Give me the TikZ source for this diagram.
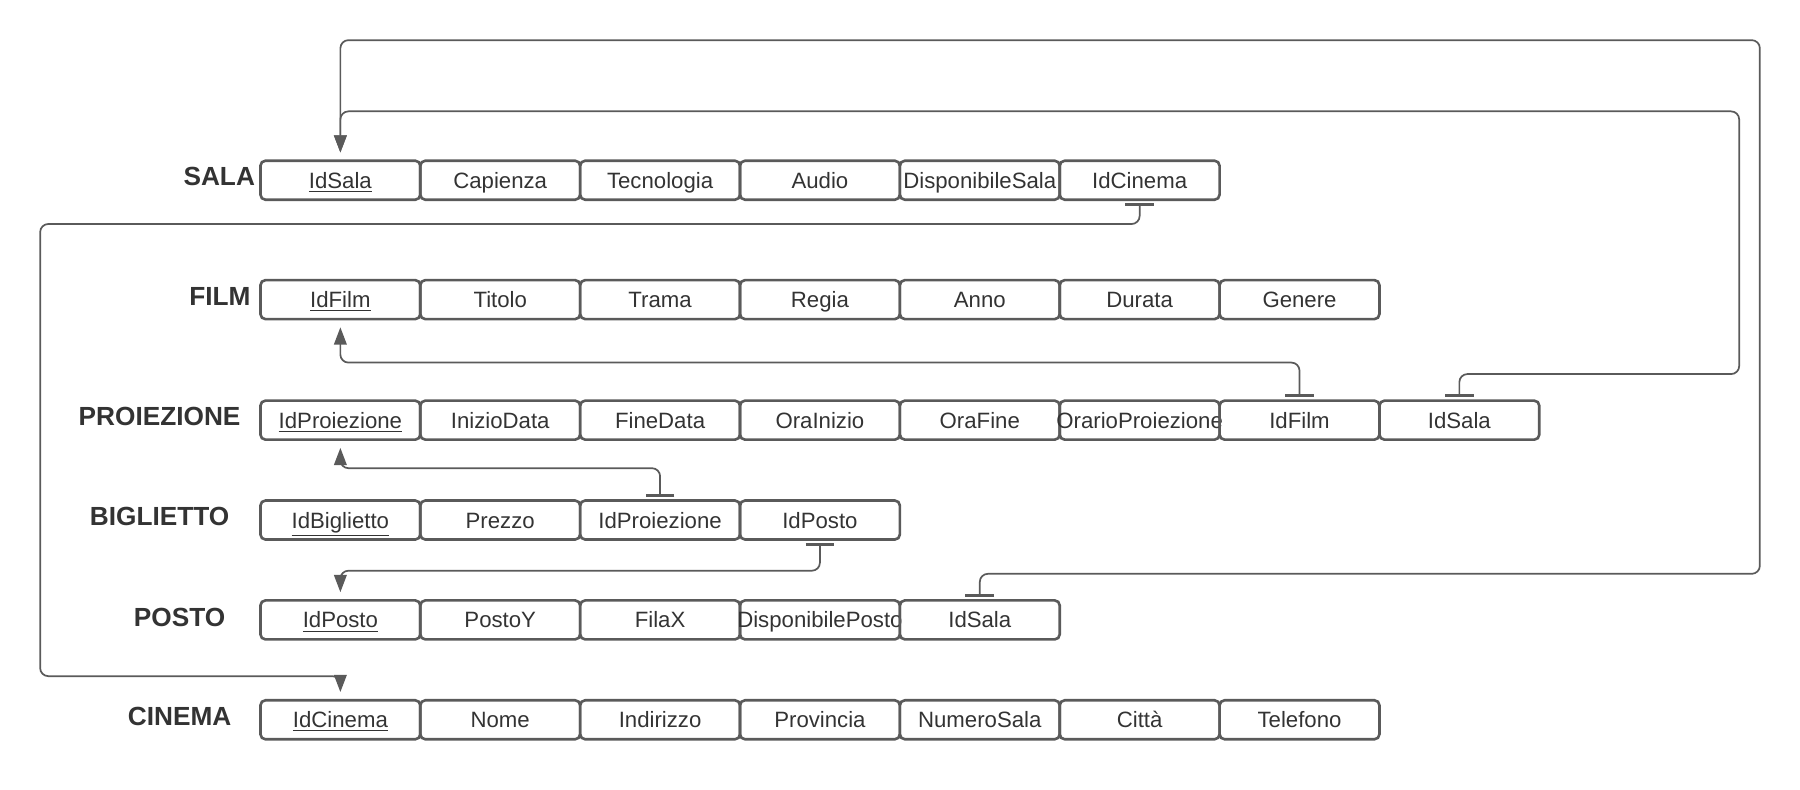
\documentclass[tikz,border=0pt]{standalone}
\usepackage{fontspec}
\setmainfont{Liberation Sans}
\usepackage{xcolor}
\usepackage{tikz}
\usetikzlibrary{arrows.meta}
\definecolor{linegray}{HTML}{5A5A5A}
\definecolor{textgray}{HTML}{333333}
\tikzset{
    mybox/.style = {rectangle, rounded corners=2.5pt, draw=linegray, line width=1.3pt, minimum width=2.785cm, minimum height=0.68cm, inner sep=0pt, text height=9pt, text depth=1pt, text=textgray, font=\fontsize{11}{13}\selectfont},
    mytitle/.style = {text=textgray, font=\fontsize{13}{15}\selectfont\bfseries},
}

\begin{document}
\begin{tikzpicture}
\tikzset{
    edgek/.style = {draw=linegray, line width=0.85pt, rounded corners=4pt, {Bar[width=0.5cm,line width=1.3pt]}-{Triangle[length=0.3cm,width=0.22cm]}, shorten <=0.04cm, shorten >=0.12cm}
}
\useasboundingbox (0,0) rectangle (31.36,13.76);
%
\node[mytitle] at (3.82,10.68) (tsala) {SALA};
\node[mybox] at (5.930,10.62) (s1) {\underline{IdSala}};
\node[mybox] at (8.715,10.62) (s2) {Capienza};
\node[mybox] at (11.500,10.62) (s3) {Tecnologia};
\node[mybox] at (14.285,10.62) (s4) {Audio};
\node[mybox] at (17.070,10.62) (s5) {DisponibileSala};
\node[mybox] at (19.855,10.62) (s6) {IdCinema};
%
\node[mytitle] at (3.83,8.60) (tfilm) {FILM};
\node[mybox] at (5.930,8.54) (f1) {\underline{IdFilm}};
\node[mybox] at (8.715,8.54) (f2) {Titolo};
\node[mybox] at (11.500,8.54) (f3) {Trama};
\node[mybox] at (14.285,8.54) (f4) {Regia};
\node[mybox] at (17.070,8.54) (f5) {Anno};
\node[mybox] at (19.855,8.54) (f6) {Durata};
\node[mybox] at (22.640,8.54) (f7) {Genere};
%
\node[mytitle] at (2.78,6.50) (tproiezione) {PROIEZIONE};
\node[mybox] at (5.930,6.44) (p1) {\underline{IdProiezione}};
\node[mybox] at (8.715,6.44) (p2) {InizioData};
\node[mybox] at (11.500,6.44) (p3) {FineData};
\node[mybox] at (14.285,6.44) (p4) {OraInizio};
\node[mybox] at (17.070,6.44) (p5) {OraFine};
\node[mybox] at (19.855,6.44) (p6) {\makebox[0pt]{OrarioProiezione}};
\node[mybox] at (22.640,6.44) (p7) {IdFilm};
\node[mybox] at (25.425,6.44) (p8) {IdSala};
%
\node[mytitle] at (2.78,4.76) (tbiglietto) {BIGLIETTO};
\node[mybox] at (5.930,4.70) (b1) {\underline{IdBiglietto}};
\node[mybox] at (8.715,4.70) (b2) {Prezzo};
\node[mybox] at (11.500,4.70) (b3) {IdProiezione};
\node[mybox] at (14.285,4.70) (b4) {IdPosto};
%
\node[mytitle] at (3.13,3.00) (tposto) {POSTO};
\node[mybox] at (5.930,2.96) (o1) {\underline{IdPosto}};
\node[mybox] at (8.715,2.96) (o2) {PostoY};
\node[mybox] at (11.500,2.96) (o3) {FilaX};
\node[mybox] at (14.285,2.96) (o4) {\makebox[0pt]{DisponibilePosto}};
\node[mybox] at (17.070,2.96) (o5) {IdSala};
%
\node[mytitle] at (3.13,1.28) (tcinema) {CINEMA};
\node[mybox] at (5.930,1.22) (c1) {\underline{IdCinema}};
\node[mybox] at (8.715,1.22) (c2) {Nome};
\node[mybox] at (11.500,1.22) (c3) {Indirizzo};
\node[mybox] at (14.285,1.22) (c4) {Provincia};
\node[mybox] at (17.070,1.22) (c5) {NumeroSala};
\node[mybox] at (19.855,1.22) (c6) {Città};
\node[mybox] at (22.640,1.22) (c7) {Telefono};
%
\draw[edgek] (s6.south) -- ++(0,-0.40) -| (0.70,1.98) -| (c1.north);
\draw[edgek] (p7.north) -- ++(0,0.64) -| (f1.south);
\draw[edgek] (p8.north) -- ++(0,0.44) -| (30.30,11.82) -| (s1.north);
\draw[edgek] (o5.north) -- ++(0,0.44) -| (30.66,13.06) -| (s1.north);
\draw[edgek] (b3.north) -- ++(0,0.54) -| (p1.south);
\draw[edgek] (b4.south) -- ++(0,-0.52) -| (o1.north);
\end{tikzpicture}
\end{document}
